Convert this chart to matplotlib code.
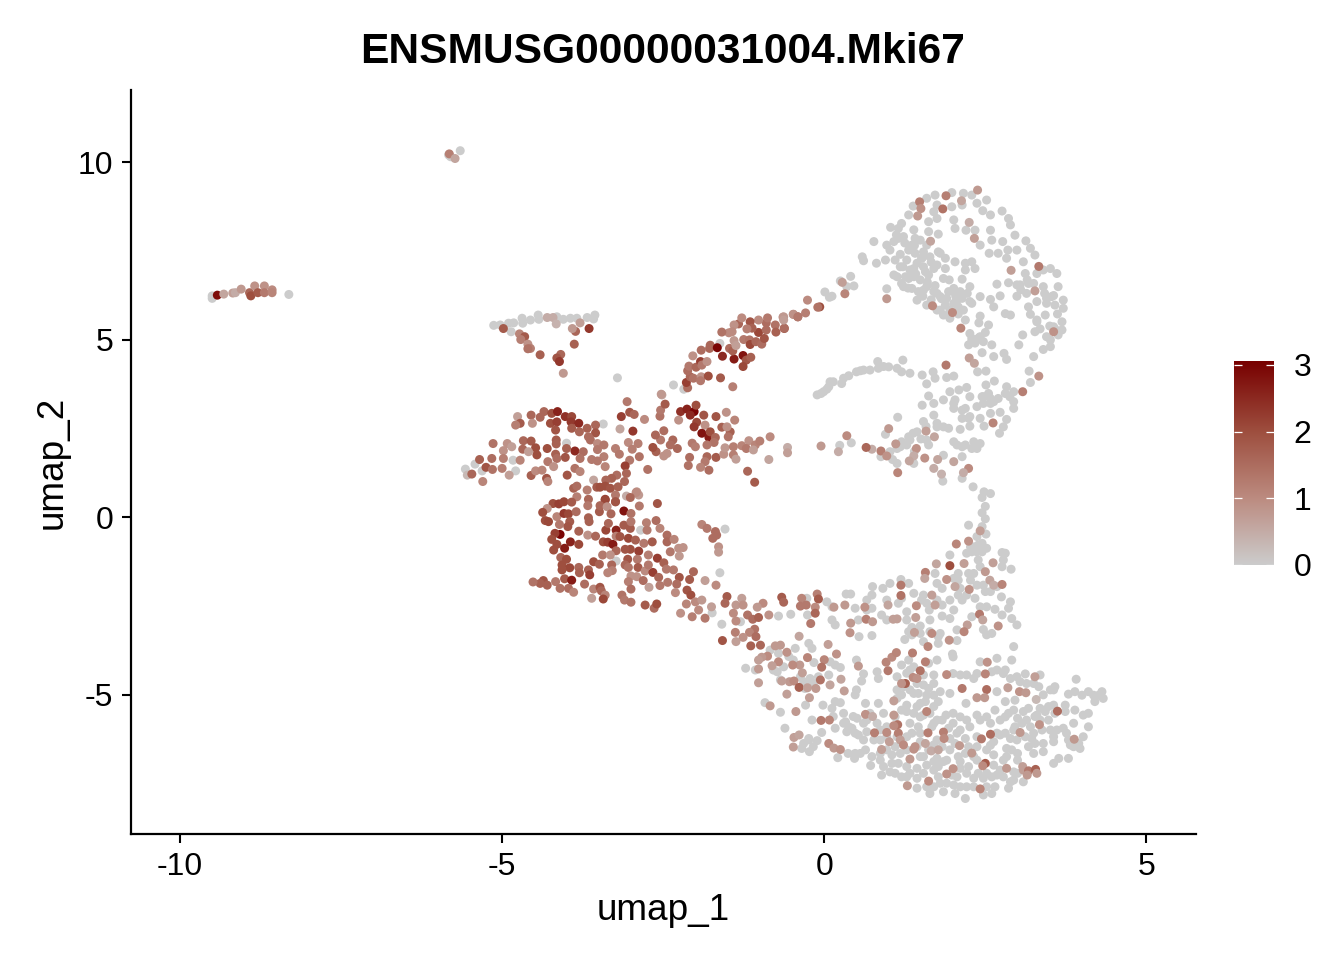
import numpy as np
import matplotlib
matplotlib.use("Agg")
import matplotlib.pyplot as plt
from matplotlib.colors import LinearSegmentedColormap

plt.rcParams['font.family'] = ['Liberation Sans', 'DejaVu Sans']
plt.rcParams['axes.unicode_minus'] = False

TITLE = "ENSMUSG00000031004.Mki67"
XLABEL = "umap_1"
YLABEL = "umap_2"
XTICKS = [-10, -5, 0, 5]
YTICKS = [-5, 0, 5, 10]
LEGEND_TICKS = [0, 1, 2, 3]

# (umap_1, umap_2) for cells with no detected expression
zero_top_lobe = [(1.98,9.14),(1.72,9.07),(1.59,8.98),(1.38,8.76),(1.31,8.51),(1.20,8.27),(1.03,8.16),(0.77,7.76),(0.59,7.33),(0.61,7.22),(0.81,7.15),(0.95,7.24),(0.97,7.66),(1.08,7.76),(1.15,8.13),(1.23,7.90),(1.39,8.09),(1.49,7.80),(1.31,7.52),(1.10,7.24),(1.28,7.24),(1.41,7.43),(1.54,7.47),(1.64,7.33),(1.80,7.43),(1.88,7.29),(2.03,7.19),(2.19,7.15),(2.29,7.19),(2.34,7.00),(2.19,6.96),(1.88,7.00),(1.75,7.10),(1.54,7.05),(1.44,7.15),(1.33,6.96),(1.08,6.82),(1.20,6.58),(1.31,6.72),(1.49,6.68),(1.62,6.82),(1.85,6.72),(1.94,6.68),(2.14,6.70),(2.26,6.49),(2.01,6.44),(1.93,6.35),(1.75,6.30),(1.59,6.49),(1.46,6.35),(1.44,6.11),(1.59,5.97),(1.75,5.83),(1.88,5.97),(2.01,6.02),(2.14,6.16),(2.26,6.07),(2.42,6.21),(2.29,6.02),(2.16,5.83),(1.95,5.60),(1.85,5.69),(2.19,5.55),(2.42,5.66),(2.40,5.47),(2.55,5.41),(2.26,5.17),(2.50,5.20),(2.37,4.99),(2.24,4.85),(2.60,4.85),(2.45,4.63),(2.63,4.52),(2.79,4.61),(2.83,4.44),(3.25,4.52),(3.40,4.72),(3.51,4.80),(3.02,4.85),(3.08,5.13),(3.27,5.22),(3.45,5.08),(3.63,5.13),(3.69,5.50),(3.43,5.69),(3.30,5.50),(3.20,5.71),(3.17,5.92),(2.99,6.22),(2.73,6.23),(2.58,6.13),(2.63,5.92),(2.81,5.73),(2.89,5.69),(2.68,6.56),(2.86,6.60),(3.04,6.54),(3.14,6.30),(3.25,6.58),(3.40,6.49),(3.45,6.16),(3.30,6.07),(3.58,5.97),(3.71,6.11),(3.71,5.88),(3.63,6.49),(3.61,6.86),(3.51,7.00),(3.30,6.86),(3.12,6.86),(3.09,7.19),(3.27,7.38),(3.20,7.57),(3.13,7.78),(2.99,7.52),(2.85,7.52),(2.70,7.43),(2.56,7.43),(2.83,7.29),(2.96,7.94),(2.89,8.23),(2.86,8.41),(2.76,8.62),(2.58,8.51),(2.46,8.63),(2.52,8.93),(2.37,8.84),(2.14,8.79),(1.98,8.74),(2.16,9.12),(2.29,9.07),(1.75,8.79),(1.70,8.60),(1.62,8.32),(1.75,8.41),(2.01,8.37),(2.03,8.13),(2.20,8.08),(2.34,8.08),(2.58,8.08),(2.60,7.80),(2.77,7.76),(2.42,7.66),(1.62,8.04),(1.77,7.97),(1.77,7.47),
 (1.12,7.95),(1.25,7.72),(1.40,7.65),(1.18,7.40),(1.52,7.30),(1.66,7.18),(1.22,7.05),(1.42,6.85),(1.60,6.62),(1.72,6.52),(1.30,6.45),(1.53,6.22),(1.66,6.12),(1.82,6.15),(2.04,6.22),(2.22,6.30),(1.95,5.82),(2.08,5.72),(3.42,6.30),(3.56,6.24),(3.62,5.72),(3.50,5.38),(3.58,5.30),(3.35,5.30),(3.15,6.68),(3.05,6.40),(2.34,4.90),(2.40,5.05),
 (1.02,7.52),(1.15,7.85),(1.36,7.66),(1.41,7.85),(1.59,7.66),(1.51,7.29),(1.18,7.05),(1.39,7.00),(1.13,6.77),(1.26,6.77),(1.39,6.77),(1.57,6.91),(1.70,7.00),(1.23,6.49),(1.36,6.44),(1.54,6.39),(1.70,6.35),(2.01,6.35),(2.11,6.35),(1.90,6.16),(1.80,6.21),(2.06,6.11),(1.80,5.83),(2.08,5.92),(2.29,5.03),(2.42,5.08),(2.47,4.94),(2.29,4.94),(3.45,6.02),(3.53,6.21),(3.30,5.55),(3.56,5.36),(3.69,5.27),(3.51,4.99),(3.17,6.58),(2.99,6.54),(3.40,6.96)]
zero_bridge = [(0.41,6.78),(0.46,6.51),(0.35,6.49),(0.25,6.65),(0.12,6.22),(0.08,6.19),(0.01,6.34),(0.97,6.43)]
zero_arc = [(-0.11,3.44),(-0.01,3.53),(0.07,3.67),(0.09,3.81),(0.14,3.81),(0.27,3.76),(0.30,3.91),(0.38,3.98),(0.50,4.09),(0.61,4.14),(0.71,4.14),(0.83,4.38),(0.84,4.19),(1.00,4.23),(1.13,4.19),(1.22,4.42),(1.20,4.09),(1.33,4.05),(1.52,4.00),(1.69,4.09),(1.72,3.91),(1.59,3.75),(1.90,3.93),(2.01,3.97),(2.38,4.09),(2.51,4.11),(3.18,4.11),(3.20,3.79),(-0.05,3.48),(0.04,3.60),(0.56,4.12),(0.92,4.24)]
zero_wing = [(2.51,3.72),(2.64,3.83),(2.21,3.65),(2.09,3.58),(1.95,3.53),(1.62,3.41),(1.85,3.30),(1.52,3.15),(1.70,3.20),(2.03,3.30),(2.26,3.39),(2.45,3.39),(2.55,3.48),(2.70,3.34),(2.83,3.67),(2.81,3.48),(2.94,3.53),(2.94,3.25),(2.94,3.06),(2.58,3.20),(2.37,3.11),(2.19,3.06),(2.01,3.06),(2.14,2.78),(2.26,2.83),(2.42,2.78),(2.58,2.92),(2.73,2.95),(2.83,2.75),(2.78,2.54),(2.72,2.36),(2.48,2.56),(2.26,2.56),(2.11,2.47),(1.70,2.87),(1.54,2.69),(1.14,2.81),(1.75,2.54),(1.93,2.50),(2.01,2.12),(2.14,1.98),(2.32,2.12),(2.42,2.07),(2.29,1.93),(1.85,1.74),(2.14,1.70),(1.62,2.03),(1.44,2.40),(1.31,2.26),(1.28,2.03),(1.13,1.93),(1.02,1.84),(0.88,1.70),(1.13,1.51),(1.39,1.51),(0.95,2.33),(1.84,1.01),(2.14,1.09),(2.31,0.85),(2.48,0.71),(0.42,2.09),(0.24,2.02),(1.50,2.20),(1.20,2.12),(1.40,1.85),(1.06,1.62),(1.58,2.55),(2.58,0.66),(2.45,0.55),(2.50,0.30),(2.45,0.12),(2.50,-0.05),
 (2.47,3.39),(2.58,3.34),(2.88,3.39),(2.01,3.20),(2.14,3.01),(2.47,3.20),(2.63,3.25),(2.24,2.78),(1.75,2.64),(1.85,2.54),(1.38,2.36),(1.33,2.17),(1.18,1.98),(1.59,2.17),(2.06,2.03),(2.19,2.03),(2.37,1.93)]
zero_upper_south = [(2.24,-0.23),(2.45,-0.27),(2.51,-0.48),(2.37,-0.55),(2.27,-0.84),(2.45,-0.74),(2.37,-0.98),(2.52,-0.88),(2.21,-1.02),(1.95,-1.07),(2.76,-1.00),(2.81,-1.02),(2.78,-1.21),(2.76,-1.40),(2.90,-1.47),(2.42,-1.40),(2.32,-1.59),(2.08,-1.59),(1.72,-1.59),(2.27,-1.78),(2.37,-1.92),(1.75,-1.87),(2.01,-1.73),(1.83,-2.01),(2.08,-2.20),(2.21,-2.20),(2.50,-2.10),(2.75,-2.25),(2.89,-2.39),(2.86,-2.57),(2.65,-2.60),(2.76,-2.76),(2.91,-2.86),(2.99,-3.04),(2.52,-2.53),(2.29,-2.81),(2.01,-2.62),(1.83,-2.79),(1.95,-2.86),(1.54,-2.20),(1.39,-2.15),(1.51,-2.34),(1.63,-2.62),(1.20,-2.29),(1.15,-2.43),(1.31,-1.87),(1.19,-1.76),(1.02,-1.87),(0.91,-2.01),(0.75,-1.96),(0.74,-2.20),(0.66,-2.34),(0.74,-2.57),(0.48,-2.57),(0.34,-2.17),(0.41,-2.17),(0.04,-2.39),(0.12,-2.53),(0.53,-2.90),(0.89,-2.76),(0.97,-2.90),(1.28,-2.90),(1.36,-3.11),(1.49,-3.07),(1.31,-3.23),(1.25,-3.45),(1.54,-3.51),(1.64,-3.23),(1.77,-3.37),(1.77,-3.56),(2.06,-3.18),(2.06,-3.48),(2.47,-3.17),(2.52,-3.32),(2.60,-3.28),(0.17,-3.04),(0.12,-2.90),(0.74,-3.34),(0.54,-3.37),(-0.26,-2.76),(-0.52,-2.74),(-0.71,-2.79),(-0.27,-2.29),(-1.30,-2.95),(-1.59,-3.02),
 (1.75,-2.34),(1.83,-2.48),(1.95,-2.34),(2.11,-2.01),(2.14,-2.34),(2.34,-2.29),(2.42,-2.53),(2.58,-2.10),(2.68,-1.96),(2.47,-1.92),(2.24,-1.59),(2.08,-1.78),(2.32,-0.84),(2.39,-0.79),(2.45,-0.98),(2.29,-0.98),(2.39,-1.21),(0.66,-2.62),(0.97,-2.34),(1.28,-2.67),(1.59,-2.43),(1.64,-2.90),(1.80,-3.28),(1.36,-3.32),(1.49,-3.28)]
zero_lower_south = [(-1.22,-4.26),(-1.07,-4.31),(-0.84,-3.75),(-0.45,-3.70),(-0.24,-3.56),(-0.19,-3.70),(-0.16,-4.10),(0.09,-4.08),(0.25,-4.24),(-0.48,-4.03),(-0.73,-4.36),(-0.32,-4.64),(-0.22,-4.59),(0.07,-4.45),(0.50,-4.03),(0.61,-4.42),(0.58,-4.62),(0.50,-4.87),(0.48,-5.01),(0.82,-4.36),(0.84,-4.55),(-0.92,-5.23),(-0.68,-5.50),(-0.29,-5.30),(-0.02,-5.30),(-0.19,-5.72),(-0.61,-5.95),(0.17,-5.20),(0.25,-5.23),(0.12,-5.39),(0.30,-5.53),(0.33,-5.77),(0.17,-5.95),(0.35,-6.05),(-0.04,-6.07),(-0.11,-6.30),(-0.24,-6.24),(-0.23,-6.61),(-0.35,-6.52),(0.21,-6.78),(0.37,-6.66),(0.47,-6.80),(0.64,-5.25),(0.84,-5.25),(0.51,-5.67),(0.61,-5.81),(0.71,-5.53),(0.92,-5.53),(0.82,-5.81),(0.53,-6.14),(0.66,-6.05),(0.77,-6.28),(0.64,-6.56),(0.74,-6.75),(0.87,-6.85),(1.05,-6.70),(1.05,-6.94),(0.72,-7.00),(0.92,-7.03),(0.89,-7.27),(1.10,-7.22),(1.20,-7.32),(1.33,-7.22),(1.44,-7.08),(1.59,-6.99),(1.75,-6.80),(1.90,-6.85),(2.08,-6.75),(2.21,-7.22),(2.32,-7.36),(2.06,-7.32),(1.80,-7.50),(1.85,-7.74),(1.64,-7.79),(1.44,-7.64),(2.03,-7.79),(2.19,-7.93),(2.21,-7.60),(2.47,-7.83),(2.60,-7.79),(2.65,-7.60),(2.86,-7.64),(2.94,-7.41),(3.09,-7.46),(2.68,-7.27),(2.52,-7.22),(2.83,-6.75),(3.00,-6.85),(3.25,-6.66),(3.40,-6.61),(3.56,-6.94),(3.79,-6.80),(3.64,-6.80),(3.97,-6.52),(3.82,-6.42),(4.02,-6.19),(4.10,-5.91),(3.71,-5.95),(3.87,-5.81),(4.02,-5.58),(4.10,-5.53),(3.89,-5.44),(3.74,-5.30),(3.79,-4.99),(3.89,-4.92),(4.00,-5.02),(4.10,-4.92),(4.18,-5.02),(4.26,-5.02),(4.31,-4.92),(4.33,-5.11),(4.20,-5.20),(3.91,-4.57),(3.58,-4.78),(3.51,-4.87),(3.40,-5.01),(3.56,-5.30),(3.58,-5.53),(3.35,-5.39),(3.48,-5.72),(3.51,-6.00),(3.27,-5.62),(3.14,-5.72),(3.00,-5.67),(2.86,-5.53),(2.96,-5.91),(2.81,-6.09),(2.65,-5.44),(2.58,-5.81),(2.68,-6.09),(2.42,-5.72),(2.21,-5.72),(2.00,-5.81),(1.75,-5.72),(1.67,-5.91),(1.46,-5.91),(1.36,-6.09),(1.28,-5.48),(1.39,-5.53),(1.20,-5.01),(1.13,-4.87),(1.33,-4.87),(1.46,-4.97),(1.62,-4.83),(1.70,-5.02),(1.57,-5.20),(1.77,-5.20),(1.95,-4.97),(2.20,-5.25),(1.89,-5.58),(2.68,-3.98),(2.42,-4.08),(2.32,-4.55),(2.11,-4.45),(1.70,-4.45),(2.00,-3.94),(1.99,-3.86),(2.94,-3.65),(2.91,-4.03),(2.81,-4.31),(2.68,-4.31),(2.99,-4.50),(3.12,-4.42),(3.14,-4.69),(2.68,-4.92),(2.81,-5.20),(2.96,-5.16),(1.31,-4.03),(1.20,-4.17),(1.33,-4.31),(1.13,-4.50),(1.62,-4.12),(1.75,-4.03),(1.44,-4.69),(1.49,-6.09),(1.75,-6.28),(1.95,-6.24),(2.11,-6.00),(2.26,-5.91),(2.37,-6.19),(2.58,-6.43),(2.83,-6.52),(2.99,-6.28),(3.22,-6.24),(3.27,-6.38),(3.56,-6.33),(2.32,-6.75),(1.70,-7.13),(1.54,-7.22),(1.77,-7.32),(1.44,-6.47),(1.49,-6.75),(1.28,-6.56),(1.10,-6.47),(0.97,-5.91)]
zero_lower_south_dense = [(1.20,-5.44),(1.10,-5.63),(1.54,-5.58),(1.70,-5.81),(1.83,-5.72),(1.93,-5.95),(2.06,-6.09),(2.19,-6.24),(2.24,-6.47),(2.37,-6.47),(2.52,-6.56),(2.63,-6.33),(2.73,-6.14),(2.89,-6.24),(2.94,-6.00),(3.07,-5.81),(3.20,-5.91),(3.30,-5.58),(3.43,-5.48),(3.48,-5.34),(3.35,-5.72),(3.25,-6.09),(3.12,-6.19),(3.38,-6.00),(3.61,-6.00),(3.76,-6.09),(3.87,-6.47),(3.79,-6.28),(3.95,-6.38),(3.56,-6.19),(3.40,-6.38),(3.17,-6.47),(3.00,-6.66),(2.91,-6.56),(2.78,-6.85),(2.63,-6.99),(2.73,-7.13),(2.60,-7.32),(2.47,-7.36),(2.39,-7.22),(2.24,-7.03),(2.11,-7.08),(1.98,-7.27),(1.90,-7.50),(2.01,-7.55),(2.11,-7.60),(2.32,-7.60),(2.52,-7.60),(2.78,-7.32),(2.94,-7.18),(2.89,-7.46),(3.00,-7.22),(1.77,-7.03),(1.85,-6.89),(1.70,-6.89),(1.54,-6.75),(1.62,-6.56),(1.49,-6.33),(1.70,-6.42),(1.83,-6.47),(1.95,-6.56),(2.03,-6.38),(2.19,-6.66),(2.11,-6.89),(2.37,-6.85),(2.63,-6.70),(1.28,-7.03),(1.15,-6.94),(1.02,-7.18),(1.28,-7.32),(1.44,-7.36),(1.59,-7.60),(1.70,-7.60),(1.28,-6.19),(1.18,-6.66),(0.97,-6.56),(0.87,-6.28),(0.87,-6.00),(0.66,-5.72),(0.45,-5.62),(0.38,-5.91),(0.48,-6.09),(0.61,-6.28),(0.56,-6.66),(0.87,-6.66),(0.97,-6.19),(1.13,-6.19),(1.33,-5.81),(1.49,-5.63),(1.64,-5.53),(2.00,-5.53),(2.11,-5.63),(2.37,-5.58),(2.52,-5.63),(2.73,-5.72),(2.81,-5.63),(2.94,-5.44),(3.09,-5.48),(3.17,-5.39),(3.74,-5.48),(1.23,-4.78),(1.39,-4.97),(1.54,-4.73),(1.70,-4.69),(1.80,-4.92),(1.59,-5.02),(1.28,-5.30),(1.44,-5.34),(1.49,-5.25),(1.70,-5.34),(1.13,-5.11),(2.00,-4.41),(2.21,-4.45),(2.37,-4.41),(2.60,-4.36),(2.78,-4.41),(2.89,-4.55),(3.04,-4.64),(3.25,-4.69),(3.33,-4.78),(3.35,-4.45),(3.56,-4.87),(1.28,-4.40),(1.54,-4.45),(1.39,-4.22),(-0.68,-4.59),(-0.22,-4.55),(-0.09,-4.50),(0.17,-4.17),(-0.79,-4.31),(-0.63,-4.22),(-0.55,-3.93),(-0.71,-3.84),(-0.37,-4.50),(-0.30,-4.83),(-0.17,-4.69),(-0.24,-6.28),(-0.17,-6.47),(-0.32,-6.38),(0.14,-5.62),(0.30,-5.81),(0.43,-5.95),(0.48,-6.66)]
zero_outliers = [(-9.50,6.23),(-9.50,6.16),(-8.31,6.27),(-5.83,10.20),(-5.65,10.32),(-5.80,10.15),(-5.13,5.40),(-5.03,5.41),(-4.90,5.46),(-4.82,5.47),(-4.86,5.22),(-4.69,5.60),(-4.68,5.46),(-4.56,5.55),(-4.44,5.69),(-4.43,5.57),(-4.15,5.64),(-4.05,5.57),(-3.94,5.60),(-3.84,5.60),(-3.68,5.62),(-3.56,5.69),(-3.58,5.58),(-3.21,3.92),(-3.43,2.62),(-4.83,1.60),(-5.42,1.49),(-5.57,1.35),(-5.31,1.30),(-4.79,1.30),(-4.00,2.08),(-2.18,3.60),(-2.34,3.72),(-1.62,4.89),(-3.23,-1.24),(-2.85,-0.37),(-1.54,-0.34),(-1.62,-1.57),(-1.74,-2.70)]

# (umap_1, umap_2, expression) for cells with detected expression
expr_outliers = [(-9.42,6.25,2.9),(-9.32,6.28,.6),(-9.18,6.31,.7),(-9.14,6.32,.5),(-9.05,6.42,.8),(-8.92,6.32,1.6),(-8.90,6.23,2.0),(-8.84,6.51,.9),(-8.79,6.32,1.8),(-8.69,6.51,.9),(-8.69,6.32,1.3),(-8.57,6.40,1.0),(-8.57,6.32,1.1),(-5.82,10.23,1.2),(-5.73,10.10,.6)]
expr_triangle = [(-4.98,5.31,1.8),(-4.73,5.16,1.1),(-4.65,5.08,1.8),(-4.71,5.00,1.2),(-4.60,4.87,.9),(-4.56,4.75,1.2),(-4.60,4.74,1.4),(-4.41,4.57,1.7),(-4.09,4.58,1.6),(-4.15,4.48,1.9),(-4.11,4.38,2.3),(-4.05,4.05,.8),(-3.88,4.87,1.7),(-3.86,5.23,1.6),(-3.91,5.31,.8),(-3.79,5.47,.7),(-3.65,5.31,2.3),(-4.30,5.62,.5),(-4.21,5.62,.5),(-4.16,5.44,.4)]
expr_top_lobe = [(2.38,9.21,.8),(1.48,8.88,1.2),(1.50,8.69,.9),(1.45,8.48,.8),(1.89,9.05,1.2),(1.84,8.68,1.4),(2.13,8.91,.6),(2.25,8.30,.5),(2.33,7.85,.7),(1.65,7.77,.6),(2.90,6.95,.7),(3.33,7.06,1.3),(3.27,6.37,.7),(3.56,5.22,.9),(1.68,5.95,1.0),(1.99,5.76,1.0),(2.12,5.32,1.1),(0.97,6.15,.8),(0.32,6.29,1.1),(0.28,6.61,.7),(-0.26,6.11,1.0),(-0.07,5.92,2.0),(-0.10,5.91,1.4),(-0.29,5.75,1.2),(-0.48,5.71,1.1),(-0.41,5.64,1.6),(-0.64,5.63,1.0),(-0.62,5.31,1.8),(1.89,4.28,1.3),(2.25,4.48,.7),(2.33,4.33,.6),(3.33,3.97,.9),(3.08,3.53,1.2)]
expr_wing = [(2.62,2.65,1.1),(1.00,2.49,.8),(1.58,2.42,.7),(1.71,2.26,.6),(1.11,2.06,.8),(1.43,1.93,.9),(1.39,1.72,.5),(1.56,1.66,.9),(1.32,1.58,.6),(1.76,1.62,.6),(1.70,1.37,.5),(2.01,1.56,.6),(2.24,1.37,1.0),(2.16,1.25,.5),(1.82,1.21,.4),(1.14,1.25,1.1),(0.88,1.86,1.2),(0.97,1.72,.9),(0.74,1.91,.5),(0.65,1.96,1.6),(0.35,2.29,1.0),(0.22,1.84,.5),(-0.05,2.00,.8),(-0.57,1.96,.5),(-0.57,1.81,.7)]
expr_arm = [(-2.52,3.44,.6),(-2.12,3.64,1.5),(-2.14,3.79,2.2),(-2.08,3.95,1.6),(-2.12,4.12,1.5),(-2.10,4.25,1.3),(-2.03,3.91,1.4),(-1.91,3.95,.9),(-1.92,3.84,1.3),(-1.80,3.97,2.0),(-1.99,4.22,1.6),(-1.92,4.38,2.2),(-1.90,4.28,1.3),(-1.82,4.38,.9),(-2.04,4.54,.9),(-1.91,4.70,1.5),(-1.77,4.84,1.6),(-1.78,4.75,1.6),(-1.66,4.77,3.0),(-1.58,4.53,2.5),(-1.61,3.92,1.8),(-1.42,3.67,1.2),(-1.40,4.45,2.7),(-1.26,4.55,2.8),(-1.21,4.42,1.9),(-1.14,4.50,1.7),(-1.26,4.24,2.1),(-1.47,4.75,1.5),(-1.42,4.68,1.7),(-1.40,4.97,.8),(-1.37,4.83,.7),(-1.25,5.00,1.3),(-1.16,4.99,1.4),(-1.15,4.86,2.1),(-1.06,4.94,1.6),(-0.97,4.87,1.5),(-0.93,5.03,1.9),(-1.02,5.20,2.1),(-0.90,5.27,1.5),(-0.90,5.47,1.5),(-0.88,5.61,1.3),(-1.02,5.55,1.0),(-1.15,5.50,1.9),(-1.12,5.32,1.7),(-1.20,5.30,1.2),(-1.33,5.44,1.6),(-1.28,5.61,1.0),(-1.40,5.41,.9),(-1.43,5.22,1.0),(-1.48,5.19,1.0),(-1.59,5.21,1.4),(-0.76,5.41,1.4),(-0.75,5.21,1.7),(-0.62,5.32,1.5),(-0.63,5.64,.8),(-0.63,5.55,.7),(-0.48,5.71,.9),(-0.41,5.64,1.3)]
expr_mid_right = [(-2.23,2.97,2.4),(-2.13,3.04,2.6),(-2.02,2.97,3.0),(-2.08,2.87,2.5),(-1.99,3.15,2.0),(-1.87,2.87,1.9),(-1.68,2.83,1.9),(-1.52,2.95,.9),(-1.39,2.73,1.1),(-1.98,2.67,2.1),(-2.02,2.54,2.3),(-1.85,2.59,.9),(-1.90,2.36,2.8),(-1.79,2.24,2.7),(-1.77,2.40,2.0),(-1.69,2.24,1.6),(-1.71,2.10,1.4),(-1.59,2.53,1.7),(-1.46,2.40,1.7),(-1.51,2.54,.9),(-1.49,2.26,1.4),(-2.05,2.08,1.3),(-2.00,1.98,1.2),(-1.82,2.03,1.3),(-1.82,1.70,1.6),(-1.85,1.56,1.3),(-1.92,1.40,1.1),(-1.79,1.32,1.5),(-1.68,1.68,1.8),(-1.56,1.77,.9),(-1.54,1.95,.8),(-1.41,1.98,1.2),(-1.41,1.75,1.2),(-1.37,1.63,.7),(-1.28,2.01,1.1),(-1.17,2.15,.9),(-1.21,1.93,1.3),(-1.07,2.03,1.1),(-1.10,1.89,.7),(-1.00,2.14,1.2),(-0.84,2.26,1.0),(-0.86,1.62,.6),(-1.19,1.29,1.6),(-1.08,.98,1.8),(-2.09,1.68,1.5),(-2.11,1.45,1.4),(-2.28,1.93,1.6),(-2.35,2.17,1.6),(-2.39,2.03,1.5),(-2.44,1.79,.9),(-2.49,1.72,.9),(-2.61,1.84,1.7),(-2.66,1.96,2.0),(-2.54,2.17,1.3),(-2.62,2.31,1.6),(-2.49,2.43,1.5),(-2.26,2.73,.9),(-2.55,2.84,1.4),(-2.54,3.01,1.3),(-2.47,3.18,1.8),(-2.53,3.46,.8),(-2.79,2.75,1.0),(-2.97,2.42,2.3),(-3.15,2.83,2.2),(-3.02,2.95,1.9),(-2.95,2.89,1.6),(-3.06,3.25,1.3),(-3.17,2.48,.6)]
expr_upper_left = [(-4.76,2.83,.7),(-4.72,2.64,1.8),(-4.79,2.59,1.2),(-4.55,2.87,1.6),(-4.53,2.64,.9),(-4.41,2.81,1.6),(-4.35,2.97,1.6),(-4.23,2.92,2.0),(-4.14,2.97,2.6),(-4.25,2.64,2.0),(-4.15,2.68,2.2),(-4.17,2.45,1.9),(-4.02,2.83,2.4),(-3.92,2.83,2.1),(-3.93,2.68,2.3),(-3.81,2.64,2.5),(-3.92,2.50,1.8),(-3.80,2.40,1.6),(-3.68,2.50,1.7),(-3.55,2.59,1.6),(-3.55,2.37,1.9),(-3.66,2.26,1.5),(-5.14,2.07,1.4),(-4.92,2.07,.9),(-4.98,1.87,.9),(-4.85,1.98,.7),(-4.67,2.15,1.6),(-4.68,1.91,1.6),(-4.55,2.14,1.8),(-4.48,1.95,2.0),(-4.30,1.93,2.0),(-4.16,2.17,1.8),(-4.16,2.06,1.7),(-4.46,1.75,2.0),(-4.59,1.84,.7),(-4.72,1.60,1.1),(-4.98,1.65,1.2),(-5.16,1.65,1.5),(-5.35,1.62,1.7),(-5.54,1.18,.3),(-5.47,1.21,1.6),(-5.25,1.40,1.9),(-5.15,1.34,1.4),(-5.00,1.37,1.2),(-4.89,1.18,.7),(-5.30,1.00,1.1),(-4.55,1.17,1.7),(-4.48,1.30,1.0),(-4.38,1.32,1.1),(-4.31,1.09,1.9),(-4.29,1.00,1.1),(-4.17,1.77,1.7),(-4.02,1.68,1.9),(-4.15,1.65,1.5),(-4.29,1.56,1.3),(-4.20,1.42,.9),(-3.99,1.18,1.9),(-3.87,1.86,2.5),(-4.00,1.93,1.7),(-3.74,1.84,1.5),(-3.79,1.65,1.4),(-3.87,1.37,1.4),(-3.79,1.28,1.1),(-3.63,2.17,1.5),(-3.52,2.07,1.0),(-3.52,1.90,1.3),(-3.42,2.03,1.3),(-3.61,1.62,1.3),(-3.42,1.70,1.2),(-3.52,1.58,1.3),(-3.40,1.42,1.1),(-3.24,1.93,1.2),(-3.18,1.77,1.3),(-3.04,2.10,1.0),(-2.89,2.07,1.2),(-2.98,1.91,1.2),(-2.87,1.70,1.4),(-3.02,1.60,1.3),(-3.09,1.44,2.2),(-3.22,1.18,1.5),(-3.07,1.23,1.6),(-3.30,1.09,1.7),(-3.39,1.04,1.6),(-2.74,1.34,1.4),(-3.58,1.04,.6),(-3.10,1.00,1.6)]
expr_central = [(-3.89,.81,1.7),(-3.84,.87,1.5),(-3.68,.76,1.2),(-3.84,.57,1.2),(-3.66,.50,1.6),(-3.53,.84,1.8),(-3.48,.84,2.0),(-3.40,.87,2.0),(-3.32,.81,1.9),(-3.20,.85,1.7),(-3.24,.62,1.3),(-3.40,.50,2.2),(-3.24,.43,1.6),(-2.91,.71,.9),(-3.07,.59,.5),(-2.88,.62,.8),
 (-4.21,.38,2.0),(-4.12,.37,2.2),(-4.04,.43,2.1),(-3.92,.42,1.8),(-4.30,.24,.9),(-4.37,.13,2.0),(-4.33,-.10,2.0),(-4.28,-.13,2.1),(-4.15,.01,1.1),(-4.04,.10,2.3),(-3.97,.09,2.1),(-3.85,.15,1.5),(-3.95,-.13,1.8),(-4.11,-.21,1.3),(-3.98,-.27,1.9),(-4.10,-.49,3.0),(-4.18,-.46,2.2),(-4.23,-.63,2.0),(-3.81,-.40,1.7),(-3.94,-.70,2.6),(-4.15,-.77,2.0),(-4.03,-.88,2.7),(-3.81,-.77,2.1),(-4.20,-.93,2.0),(-4.09,-1.14,1.6),(-4.00,-1.19,2.0),(-4.07,-1.35,2.0),(-3.95,-1.43,2.1),(-4.07,-1.49,2.0),(-3.81,-1.42,1.6),(-3.80,-1.57,1.7),(-4.03,-1.74,1.8),(-3.92,-1.78,2.7),(-4.17,-1.82,1.3),(-4.36,-1.79,1.9),(-4.41,-1.87,1.7),(-4.52,-1.83,1.4),(-4.30,-1.92,1.7),(-4.10,-2.01,1.4),(-3.97,-2.01,1.5),(-3.89,-2.12,1.1),(-3.72,-1.89,1.5),(-3.58,-2.03,1.1),(-3.48,-1.98,1.9),(-3.46,-2.08,1.6),(-3.40,-2.20,1.1),(-3.43,-2.31,2.1),(-3.61,-2.29,.7),(-3.66,-1.49,1.7),(-3.64,-1.63,2.2),(-3.58,-1.26,2.0),(-3.49,-1.33,1.7),
 (-3.65,-.13,1.7),(-3.66,-.02,1.7),(-3.67,-.51,.9),(-3.55,-.54,1.6),(-3.39,-.37,2.1),(-3.23,-.37,2.6),(-3.35,-.18,1.6),(-3.43,-.70,2.0),(-3.36,-.71,2.2),(-3.28,-.77,2.7),(-3.23,-.54,1.2),(-3.11,.17,2.8),(-3.24,.43,1.9),(-3.40,.48,2.1),(-3.49,.15,1.8),(-3.48,.32,1.6),(-3.67,.32,1.3),(-3.37,.29,.9),(-3.31,.09,1.6),(-3.00,.10,1.4),(-2.87,.31,1.3),(-2.92,.69,1.0),(-3.01,.55,1.6),(-2.59,.38,1.9),(-2.61,-.10,1.5),(-2.76,-.16,1.2),(-2.75,-.37,1.3),(-2.55,-.32,1.1),(-3.11,-.23,1.8),(-3.01,-.32,1.8),(-3.00,-.13,1.3),(-3.04,-.60,2.1),(-3.17,-.55,1.9),(-2.93,-.65,1.7),(-2.80,-.74,1.3),(-2.67,-.70,1.8),(-2.44,-.51,1.5),(-2.44,-.70,1.6),(-2.33,-.63,1.1),(-2.39,-.98,1.3),(-2.26,-.88,.9),(-2.19,-.86,.9),(-2.25,-1.10,.8),(-2.59,-1.16,2.2),(-2.73,-1.07,1.2),(-2.88,-.96,2.2),(-3.01,-.91,2.0),(-3.09,-.91,1.9),(-3.23,-.95,1.6),(-3.44,-1.07,1.3),(-3.32,-1.07,.9),(-3.30,-1.35,1.6),(-3.29,-1.51,1.2),(-3.36,-1.57,1.1),(-3.05,-1.19,1.9),(-3.09,-1.35,1.6),(-3.04,-1.42,1.4),(-2.90,-1.19,1.3),(-2.89,-1.42,1.8),(-2.78,-1.52,1.0),(-2.66,-1.56,2.2),(-2.57,-1.70,1.6),(-2.73,-1.35,1.3),(-2.49,-1.29,1.7),(-2.34,-1.49,1.3),(-2.45,-1.47,1.3),(-2.25,-1.70,1.9),(-2.03,-1.54,1.6),(-2.09,-1.76,1.8),(-3.00,-1.66,.9),(-2.91,-1.68,.9),(-2.81,-1.79,1.5),(-2.72,-1.98,.7),(-3.04,-1.82,1.2),(-3.00,-2.03,1.5),(-3.14,-2.20,1.4),(-3.10,-2.34,1.3),(-3.00,-2.40,1.4),(-2.78,-2.48,1.8),(-2.64,-2.57,1.5),(-2.60,-2.45,2.0),(-2.55,-1.93,1.3),(-2.43,-1.84,1.3),(-2.29,-1.89,1.5),(-2.31,-2.13,1.0),(-2.13,-2.06,1.9),(-2.07,-2.20,2.0),(-2.14,-2.45,1.1),(-2.00,-2.39,1.0),(-1.90,-2.34,.8),(-1.95,-2.62,1.0),(-2.23,-2.71,.9),(-2.05,-2.81,1.2),(-1.85,-2.85,1.3),(-1.51,-2.24,1.8),(-1.54,-2.43,1.6),(-1.37,-2.48,.8),(-1.85,-1.79,.7),(-1.68,-1.92,1.0),(-1.75,-2.53,.7),(-1.90,-.21,1.1),(-1.82,-.32,1.3),(-1.69,-.41,1.5),(-1.67,-.51,1.5),(-1.73,-.60,1.5),(-1.64,-.84,.9),(-1.64,-.99,.8)]
expr_south = [(-1.28,-2.29,.7),(-1.26,-2.48,.9),(-0.95,-2.43,1.0),(-1.04,-2.54,.8),(-1.19,-2.76,1.4),(-1.11,-2.88,1.5),(-1.02,-2.83,1.7),(-0.86,-2.76,.9),(-1.41,-2.71,1.0),(-1.37,-2.93,1.0),(-1.08,-3.16,1.4),(-1.16,-3.25,1.1),(-1.38,-3.25,1.2),(-1.06,-3.37,1.5),(-1.26,-3.39,.9),(-1.37,-3.51,.7),(-0.99,-3.61,1.6),(-1.14,-3.63,1.7),(-1.58,-3.48,1.9),(-0.66,-2.26,1.8),(-0.63,-2.40,1.6),(-0.35,-2.29,1.1),(-0.37,-2.51,1.3),(-0.28,-2.48,1.3),(-0.11,-2.17,1.2),(-0.09,-2.31,1.8),(-0.14,-2.54,1.0),(-0.14,-2.71,1.6),(-0.21,-3.00,1.3),(0.15,-2.54,.8),(0.32,-2.48,.8),(0.63,-2.54,.9),(0.65,-2.88,1.2),(0.75,-2.95,.8),(0.41,-2.99,.8),(0.40,-3.26,.9),(0.99,-2.48,.6),(1.13,-2.87,.7),(1.07,-2.88,.7),(1.19,-1.92,1.3),(1.19,-2.21,1.4),(1.42,-2.83,.7),(1.43,-2.50,1.0),(1.67,-2.20,.7),(1.72,-2.48,.7),(1.57,-1.56,1.2),(1.56,-1.73,.6),(1.74,-1.32,.6),(1.95,-1.37,2.0),(1.90,-1.76,.9),(2.03,-1.96,.6),(2.25,-2.04,.9),(2.05,-.76,1.1),(2.24,-.68,.9),(2.42,-.39,.7),(2.17,-1.31,.7),(2.62,-1.29,.7),(2.50,-1.54,.8),(2.57,-1.78,.6),(2.63,-1.92,.5),(2.76,-1.90,1.1),(2.41,-2.74,1.3),(2.46,-2.90,.6),(2.22,-3.04,.7),(2.17,-3.23,1.1),(2.70,-3.07,.9),(1.67,-3.28,1.0),(1.94,-3.47,.9),(1.40,-3.25,.7),(1.61,-3.65,1.1),
 (-0.39,-3.36,.6),(0.06,-3.59,.7),(0.19,-3.86,.9),(-0.26,-3.96,1.1),(0.00,-4.02,1.1),(-0.04,-4.23,1.4),(-0.38,-4.17,.8),(-0.49,-4.17,1.0),(-0.58,-3.81,.9),(-0.68,-3.61,.8),(-0.76,-3.63,.8),(-0.88,-3.92,1.0),(-0.97,-3.95,.8),(-1.02,-4.03,.7),(-1.02,-4.28,.8),(-0.71,-4.08,1.0),(-0.81,-4.19,.7),(-0.34,-4.39,.7),(-0.06,-4.59,1.4),(-0.54,-4.64,.8),(-0.66,-4.62,.7),(-0.47,-4.62,1.0),(-0.39,-4.80,1.7),(-0.26,-4.81,.7),(-0.13,-4.83,.8),(0.09,-4.73,.6),(0.26,-4.57,.6),(0.31,-4.90,.7),(-0.58,-4.99,.7),(-0.23,-5.09,.7),(-1.02,-4.67,.7),(-0.84,-5.32,.8),(-0.44,-5.48,.8),(-0.05,-5.73,1.3),(0.08,-5.72,1.1),
 (0.53,-4.20,.8),(0.96,-4.09,1.1),(0.99,-4.33,1.3),(1.05,-3.95,1.0),(1.12,-3.82,1.1),(1.37,-3.83,1.2),(1.57,-4.08,1.2),(1.49,-4.33,1.4),(1.38,-4.52,1.0),(1.44,-4.55,.9),(1.26,-4.69,1.7),(1.20,-4.69,.9),(1.08,-5.18,.7),(0.64,-5.56,.9),(0.75,-5.62,.5),(1.08,-5.58,.8),(1.59,-5.48,1.1),(1.90,-4.44,1.0),(2.50,-4.42,1.1),(2.53,-4.09,.9),(2.14,-4.83,1.3),(2.52,-4.86,1.5),(2.37,-5.09,.8),(2.49,-5.09,.8),(2.85,-4.81,.7),(3.03,-4.92,.9),(3.13,-4.95,.8),(3.27,-4.50,.7),(3.29,-5.14,.3),(3.62,-5.47,1.5),(3.34,-5.85,.9),(3.04,-6.07,.8),(3.88,-6.26,.8),
 (1.14,-5.85,1.4),(1.08,-5.88,1.0),(0.78,-6.08,1.2),(0.97,-6.07,1.0),(1.15,-6.09,1.2),(1.18,-6.28,.7),(1.01,-6.33,.7),(1.23,-6.42,1.0),(0.89,-6.55,.7),(1.41,-6.47,.9),(1.39,-6.54,.9),(1.57,-6.38,.6),(1.61,-6.08,1.2),(1.85,-6.06,1.2),(1.86,-6.24,1.0),(1.66,-6.59,.5),(1.77,-6.56,.6),(2.10,-6.44,.8),(2.44,-6.25,1.3),(2.58,-6.12,1.5),(2.29,-6.65,.8),(1.33,-6.82,.8),(2.00,-7.09,.9),(1.90,-7.24,.9),(2.50,-6.94,1.8),(2.46,-7.01,1.0),(2.83,-7.08,.8),(3.08,-7.03,.7),(3.09,-7.13,.7),(3.17,-7.15,1.3),(3.28,-7.11,1.7),(3.30,-7.22,.8),(3.15,-7.27,.8),(1.62,-7.44,1.0),(1.29,-7.57,.8),(2.42,-7.66,1.1),(0.07,-6.38,1.0),(0.15,-6.51,.8),(0.25,-6.55,.9),(-0.48,-6.48,.7),(-0.47,-6.21,.7),(-0.39,-6.14,.6)]

zero_groups = [zero_top_lobe, zero_bridge, zero_arc, zero_wing, zero_upper_south, zero_lower_south, zero_lower_south_dense, zero_outliers]
expr_groups = [expr_outliers, expr_triangle, expr_top_lobe, expr_wing, expr_arm, expr_mid_right, expr_upper_left, expr_central, expr_south]

VMAX = 3.06
cmap = LinearSegmentedColormap.from_list(
    "mki67", [(0, "#CCCCCC"), (1/VMAX, "#BC8B80"), (2/VMAX, "#9E4F3F"), (1, "#780000")])

W, H = 1344, 960
fig = plt.figure(figsize=(W/200, H/200), dpi=200, facecolor="white")
ax = fig.add_axes([131/W, 1-834/H, (1196-131)/W, (834-90)/H])

zx = [p[0] for g in zero_groups for p in g]
zy = [p[1] for g in zero_groups for p in g]
ex = [p[0] for g in expr_groups for p in g]
ey = [p[1] for g in expr_groups for p in g]
ev = [p[2] for g in expr_groups for p in g]
ax.scatter(zx, zy, c=[0]*len(zx), cmap=cmap, vmin=0, vmax=VMAX, s=10.5, linewidths=0, zorder=2)
ax.scatter(ex, ey, c=ev, cmap=cmap, vmin=0, vmax=VMAX, s=10.5, linewidths=0, zorder=3)

ax.set_xlim(-10.76, 5.77)
ax.set_ylim(-8.93, 12.03)
ax.set_xticks(XTICKS)
ax.set_yticks(YTICKS)
ax.tick_params(length=3.4, width=0.75, labelsize=11.5, pad=3, color="black")
for s in ("top", "right"):
    ax.spines[s].set_visible(False)
for s in ("left", "bottom"):
    ax.spines[s].set_linewidth(0.8)
ax.set_xlabel(XLABEL, fontsize=13.3, labelpad=4)
ax.set_ylabel(YLABEL, fontsize=13.3, labelpad=3)
fig.text(663/W, 1-52/H, TITLE, ha="center", va="center", fontsize=15.3, fontweight="bold")

# colour legend
cax = fig.add_axes([1234/W, 1-565/H, 40/W, 204/H])
grad = np.linspace(0, VMAX, 256).reshape(-1, 1)
cax.imshow(grad, cmap=cmap, vmin=0, vmax=VMAX, origin="lower", aspect="auto", extent=[0, 1, 0, VMAX])
for v in LEGEND_TICKS:
    cax.plot([0, 0.2], [v, v], color="white", lw=0.45, solid_capstyle="butt")
    cax.plot([0.8, 1], [v, v], color="white", lw=0.45, solid_capstyle="butt")
cax.set_xlim(0, 1)
cax.set_ylim(0, VMAX)
cax.set_xticks([])
cax.yaxis.tick_right()
cax.set_yticks(LEGEND_TICKS)
cax.tick_params(axis="y", length=0, labelsize=11.5, pad=7)
for s in cax.spines.values():
    s.set_visible(False)

fig.savefig("out.png", dpi=200, facecolor="white")
